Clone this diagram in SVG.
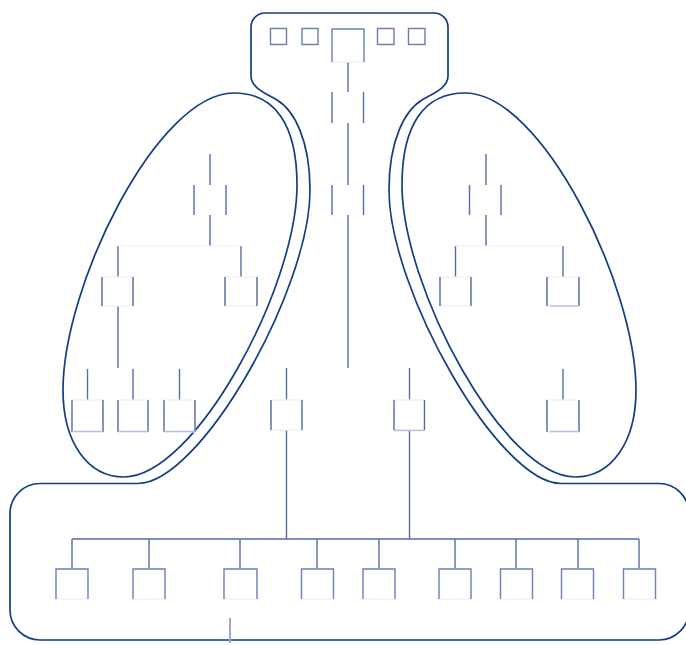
<svg xmlns="http://www.w3.org/2000/svg" width="686" height="645" viewBox="0 0 686 645">
  <style>
    .frame{fill:none;stroke:#123f82;stroke-width:1.7}
    .bx{fill:none;stroke:#eceef6;stroke-width:1.2}
    .sd{fill:none;stroke:#586ca5;stroke-width:1.4}
    .tp{fill:none;stroke:#6f82b8;stroke-width:1.4}
    .lt{fill:none;stroke:#b4bddb;stroke-width:1.3}
    .sq{fill:none;stroke:#6a7cb3;stroke-width:1.4}
    .cn{fill:none;stroke:#586ca5;stroke-width:1.4}
    .fa{fill:none;stroke:#eceef6;stroke-width:1.2}
    .stub{fill:none;stroke:#9aa7cf;stroke-width:2}
  </style>
  <rect width="686" height="645" fill="#ffffff"/>

  <!-- enclosing outline: header block, waist along both clusters, base tray -->
  <g id="frames">
    <path id="outline" class="frame" d="M251,27 A14,14 0 0 1 265,13 H434 A14,14 0 0 1 448,27 V76
      C448,88 432.3,93.8 422,100
      C404.9,110.3 389,140 389,190
      C389,290 499,483.5 561,483.5
      H659 A30,30 0 0 1 689,513.5 V610 A30,30 0 0 1 659,640 H40 A30,30 0 0 1 10,610 V513.5 A30,30 0 0 1 40,483.5 H138
      C200,483.5 310,290 310,190
      C310,140 294.1,110.3 277,100
      C266.7,93.8 251,88 251,76 Z"/>
    <path id="cluster-left" class="frame" d="M234,93 C275,93 297,125 297,185 C297,287 195,477 124,477 C87.4,477 63,442 63,390 C63,286 157,93 234,93 Z"/>
    <path id="cluster-right" class="frame" d="M465,93 C424,93 402,125 402,185 C402,287 504,477 575,477 C611.6,477 636,442 636,390 C636,286 542,93 465,93 Z"/>
  </g>

  <!-- connectors -->
  <g id="connectors">
    <path class="cn" d="M348,62 V92 M348,123 V185 M348,215 V368
      M286.5,368 V400 M286.5,430 V539 M409.5,368 V400 M409.5,430 V539"/>
    <path class="cn" d="M72,539 H639
      M72,539 V569 M149,539 V569 M240,539 V569 M317,539 V569 M379,539 V569
      M455,539 V569 M516,539 V569 M578,539 V569 M639,539 V569"/>
    <path class="cn" d="M210,154 V185 M210,215 V246 M118,246 V277 M241,246 V277 M118,306 V368
      M87.5,369 V400 M133,369 V400 M179.5,369 V400"/>
    <path class="cn" d="M486,154 V185 M486,215 V246 M455.5,246 V277 M563,246 V277 M563,369 V400"/>
    <path class="fa" d="M118,246 H241 M455.5,246 H563"/>
    <path class="stub" d="M230,618 V643"/>
  </g>

  <!-- header row -->
  <g id="n-h1"><rect class="sq" x="270.5" y="28.5" width="16" height="16"/></g>
  <g id="n-h2"><rect class="sq" x="302" y="28.5" width="16" height="16"/></g>
  <g id="n-top"><rect class="bx" x="332" y="29" width="32" height="33"/><path class="tp" d="M332,62 V29 H364 V62"/></g>
  <g id="n-h3"><rect class="sq" x="377.5" y="28.5" width="16.5" height="16"/></g>
  <g id="n-h4"><rect class="sq" x="408.5" y="28.5" width="16.5" height="16"/></g>

  <!-- central spine -->
  <g id="n-c1"><path class="sd" d="M332,92 V123 M363.5,92 V123"/></g>
  <g id="n-c2"><path class="sd" d="M332,185 V215 M363.5,185 V215"/></g>
  <g id="n-m1"><rect class="bx" x="271" y="400" width="31" height="30"/><path class="sd" d="M271,400 V430 M302,400 V430"/></g>
  <g id="n-m2"><rect class="bx" x="394" y="400" width="30.5" height="30"/><path class="sd" d="M394,400 V430 M424.5,400 V430"/><path class="lt" d="M394,430.5 H424.5"/></g>

  <!-- left cluster -->
  <g id="n-l1"><path class="sd" d="M194,185 V215 M226,185 V215"/></g>
  <g id="n-l2"><rect class="bx" x="102" y="277" width="31" height="29"/><path class="sd" d="M102,277 V306 M133,277 V306"/></g>
  <g id="n-l3"><rect class="bx" x="225" y="277" width="32" height="29"/><path class="sd" d="M225,277 V306 M257,277 V306"/></g>
  <g id="n-l4"><rect class="bx" x="72" y="400" width="31" height="32"/><path class="sd" d="M72,400 V432 M103,400 V432"/><path class="lt" d="M72,431.5 H103"/></g>
  <g id="n-l5"><rect class="bx" x="118" y="400" width="30" height="32"/><path class="sd" d="M118,400 V432 M148,400 V432"/><path class="lt" d="M118,431.5 H148"/></g>
  <g id="n-l6"><rect class="bx" x="164" y="400" width="31" height="32"/><path class="sd" d="M164,400 V432 M195,400 V432"/><path class="lt" d="M164,431.5 H195"/></g>

  <!-- right cluster -->
  <g id="n-r1"><path class="sd" d="M469.5,185 V215 M501,185 V215"/></g>
  <g id="n-r2"><rect class="bx" x="440" y="277" width="31" height="29"/><path class="sd" d="M440,277 V306 M471,277 V306"/></g>
  <g id="n-r3"><rect class="bx" x="547" y="277" width="32" height="29"/><path class="sd" d="M547,277 V306 M579,277 V306"/><path class="lt" d="M550,306 H579"/></g>
  <g id="n-r4"><rect class="bx" x="547" y="400" width="32" height="32"/><path class="sd" d="M547,400 V432 M579,400 V432"/><path class="lt" d="M550,431.5 H579"/></g>

  <!-- base row -->
  <g id="n-b1"><rect class="bx" x="56" y="569" width="32" height="30"/><path class="tp" d="M56,599 V569 H88 V599"/></g>
  <g id="n-b2"><rect class="bx" x="133" y="569" width="32" height="30"/><path class="tp" d="M133,599 V569 H165 V599"/></g>
  <g id="n-b3"><rect class="bx" x="224" y="569" width="33" height="30"/><path class="tp" d="M224,599 V569 H257 V599"/></g>
  <g id="n-b4"><rect class="bx" x="301.5" y="569" width="32" height="30"/><path class="tp" d="M301.5,599 V569 H333.5 V599"/></g>
  <g id="n-b5"><rect class="bx" x="363" y="569" width="32" height="30"/><path class="tp" d="M363,599 V569 H395 V599"/></g>
  <g id="n-b6"><rect class="bx" x="439" y="569" width="32" height="30"/><path class="tp" d="M439,599 V569 H471 V599"/></g>
  <g id="n-b7"><rect class="bx" x="500.5" y="569" width="32" height="30"/><path class="tp" d="M500.5,599 V569 H532.5 V599"/></g>
  <g id="n-b8"><rect class="bx" x="561.5" y="569" width="32" height="30"/><path class="tp" d="M561.5,599 V569 H593.5 V599"/></g>
  <g id="n-b9"><rect class="bx" x="623.5" y="569" width="32" height="30"/><path class="tp" d="M623.5,599 V569 H655.5 V599"/></g>
</svg>
